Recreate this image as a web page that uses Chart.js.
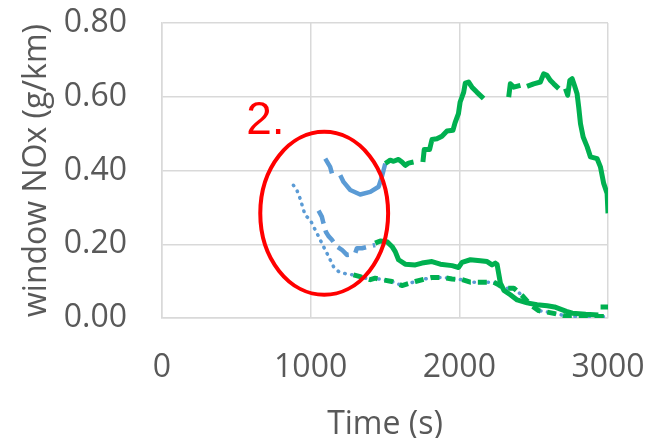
<!DOCTYPE html>
<html>
<head>
<meta charset="utf-8">
<script src="https://cdn.jsdelivr.net/npm/chart.js@4.4.1/dist/chart.umd.min.js"></script>
<style>
  html, body { margin: 0; padding: 0; background: #ffffff; }
  #wrap { width: 648px; height: 438px; }
</style>
</head>
<body>
<div id="wrap"><canvas id="noxChart" width="648" height="438"></canvas></div>
<script>
// window NOx over time; null = a break in the line
var xTicks = [0, 1000, 2000, 3000];
var yTicks = [0, 0.2, 0.4, 0.6, 0.8];

var blueTopTime = [1098, 1131, 1143, 1170, 1199, 1221, 1266, 1333, 1401, 1457, 1479, 1502];
var blueTopNOx  = [0.432, 0.410, 0.392, null, 0.387, 0.369, 0.347, 0.335, 0.342, 0.356, 0.383, 0.419];

var greenTopTime = [1502, 1535, 1558, 1591, 1614, 1636, 1658, 1692, 1725, 1755, 1764, 1800, 1816, 1849, 1883, 1917, 1957, 1971, 1994, 2005, 2029, 2040, 2062, 2085, 2119, 2153, 2163, 2250, 2332, 2343, 2366, 2411, 2433, 2455, 2500, 2545, 2567, 2590, 2613, 2635, 2669, 2690, 2714, 2729, 2743, 2759, 2774, 2792, 2803, 2815, 2833, 2860, 2882, 2927, 2949, 2971, 2994, 3000];
var greenTopNOx  = [0.419, 0.428, 0.425, 0.430, 0.423, 0.414, 0.420, 0.423, null, 0.423, 0.457, 0.457, 0.484, 0.486, 0.493, 0.507, 0.509, 0.529, 0.554, 0.585, 0.612, 0.637, 0.640, 0.626, 0.612, 0.599, 0.595, null, 0.599, 0.635, 0.626, 0.631, null, 0.628, 0.635, 0.640, 0.662, 0.658, 0.644, 0.635, 0.622, null, 0.622, 0.604, 0.644, 0.649, 0.631, 0.608, 0.572, 0.527, 0.491, 0.464, 0.437, 0.432, 0.410, 0.365, 0.338, 0.284];

var blueMidTime = [1053, 1075, 1086, 1102, 1120, 1143, 1176, 1210, 1244, 1270, 1300, 1311, 1345, 1434];
var blueMidNOx  = [0.291, 0.275, 0.257, 0.234, 0.222, 0.212, 0.194, 0.185, 0.171, 0.172, 0.176, 0.189, 0.189, 0.198];

var greenMidTime = [1434, 1468, 1513, 1547, 1569, 1591, 1636, 1704, 1749, 1816, 1872, 1951, 1995, 2018, 2074, 2141, 2187, 2220, 2242, 2254, 2265, 2276, 2300, 2343, 2389, 2456, 2523, 2591, 2640, 2680, 2720, 2760, 2850, 2935, 2940, 2950, 3000];
var greenMidNOx  = [0.203, 0.209, 0.207, 0.194, 0.180, 0.158, 0.146, 0.144, 0.149, 0.153, 0.146, 0.142, 0.137, 0.151, 0.158, 0.155, 0.153, 0.144, 0.149, 0.145, 0.120, 0.095, 0.075, 0.063, 0.049, 0.041, 0.036, 0.033, 0.030, 0.024, 0.018, 0.013, 0.010, 0.008, null, 0.030, 0.030];

var blueLowTime = [884, 907, 929, 952, 963, 997, 1019, 1042, 1064, 1086, 1109, 1131, 1154, 1188, 1244];
var blueLowNOx  = [0.360, 0.347, 0.324, 0.293, 0.279, 0.266, 0.248, 0.230, 0.212, 0.194, 0.176, 0.158, 0.139, 0.126, 0.119];

var greenLowTime = [1288, 1333, 1401, 1434, 1479, 1547, 1614, 1704, 1771, 1816, 1894, 1951, 2018, 2074, 2197, 2231, 2265, 2298, 2366, 2422, 2478, 2534, 2591, 2680, 2725, 3000];
var greenLowNOx  = [0.117, 0.112, 0.104, 0.108, 0.104, 0.099, 0.088, 0.099, 0.106, 0.110, 0.110, 0.106, 0.104, 0.097, 0.097, 0.097, 0.090, 0.081, 0.081, 0.061, 0.036, 0.020, 0.016, 0.009, 0.004, 0.004];

// the red mark: ellipse centre/radii and label anchor in data units
var markCentre = [1091, 0.284];
var markRadius = [430, 0.221];
var markLabel = "2.";
var markLabelAt = [566, 0.50];

const blue = "#5B9BD5";
const green = "#00B050";
const grey = "#595959";

function pts(t, v) {
    return t.map(function (x, i) { return { x: x, y: v[i] }; });
}

function line(data, color, dash, width, cap) {
    return {
        data: data,
        borderColor: color,
        borderWidth: width || 4.5,
        borderDash: dash || [],
        borderCapStyle: cap || "butt",
        borderJoinStyle: "round",
        pointRadius: 0,
        tension: 0,
        spanGaps: false
    };
}

var redMark = {
    id: "redMark",
    afterDatasetsDraw: function (chart) {
        var ctx = chart.ctx;
        var sx = chart.scales.x, sy = chart.scales.y;
        var cx = sx.getPixelForValue(markCentre[0]);
        var cy = sy.getPixelForValue(markCentre[1]);
        var rx = sx.getPixelForValue(markCentre[0] + markRadius[0]) - cx;
        var ry = cy - sy.getPixelForValue(markCentre[1] + markRadius[1]);
        ctx.save();
        ctx.strokeStyle = "#FF0000";
        ctx.lineWidth = 4;
        ctx.beginPath();
        ctx.ellipse(cx, cy, rx, ry, 0, 0, Math.PI * 2);
        ctx.stroke();
        ctx.fillStyle = "#FF0000";
        ctx.font = "46px 'Liberation Sans', Arial, sans-serif";
        ctx.textBaseline = "alphabetic";
        ctx.fillText(markLabel, sx.getPixelForValue(markLabelAt[0]), sy.getPixelForValue(markLabelAt[1]));
        ctx.restore();
    }
};

var tickFont = { family: "'Open Sans', 'Noto Sans', sans-serif", size: 32 };

var noxChart = new Chart(document.getElementById("noxChart"), {
    type: "line",
    data: {
        datasets: [
            line(pts(greenTopTime, greenTopNOx), green, [], 5),
            line(pts(greenMidTime, greenMidNOx), green, [], 5),
            line(pts(greenLowTime, greenLowNOx), green, [9, 7], 5),
            line(pts(blueTopTime, blueTopNOx), blue, [], 4.5),
            line(pts(blueMidTime, blueMidNOx), blue, [14, 7], 4.5),
            // dotted line carries on under the green dashes
            line(pts(blueLowTime.concat(greenLowTime), blueLowNOx.concat(greenLowNOx)), blue, [0.5, 6.5], 3.5, "round")
        ]
    },
    options: {
        responsive: false,
        animation: false,
        layout: { padding: { top: 23, right: 40, left: 0, bottom: 0 } },
        plugins: {
            legend: { display: false },
            tooltip: { enabled: false }
        },
        scales: {
            x: {
                type: "linear",
                min: 0,
                max: 3000,
                afterBuildTicks: function (scale) {
                    scale.ticks = xTicks.map(function (v) { return { value: v }; });
                },
                afterFit: function (scale) {
                    scale.height = 120;
                    scale.paddingLeft = 0;
                    scale.paddingRight = 0;
                },
                grid: { color: "#D9D9D9", lineWidth: 1.5, drawTicks: false },
                border: { display: true, color: "#D9D9D9", width: 1.5 },
                ticks: {
                    color: grey,
                    font: tickFont,
                    padding: 31,
                    maxRotation: 0,
                    callback: function (v) { return String(v); }
                },
                title: { display: true, text: "Time (s)", color: grey, font: tickFont, padding: { top: 0, bottom: -6 } }
            },
            y: {
                min: 0,
                max: 0.8,
                afterBuildTicks: function (scale) {
                    scale.ticks = yTicks.map(function (v) { return { value: v }; });
                },
                afterFit: function (scale) {
                    scale.width = 162;
                    scale.paddingTop = 0;
                    scale.paddingBottom = 0;
                },
                grid: { color: "#D9D9D9", lineWidth: 1.5, drawTicks: false },
                border: { display: true, color: "#D9D9D9", width: 1.5 },
                ticks: {
                    color: grey,
                    font: tickFont,
                    padding: 35,
                    callback: function (v) { return Number(v).toFixed(2); }
                },
                title: { display: true, text: "window NOx (g/km)", color: grey, font: tickFont, padding: { top: 18, bottom: 0 } }
            }
        }
    },
    plugins: [redMark]
});
</script>
</body>
</html>
